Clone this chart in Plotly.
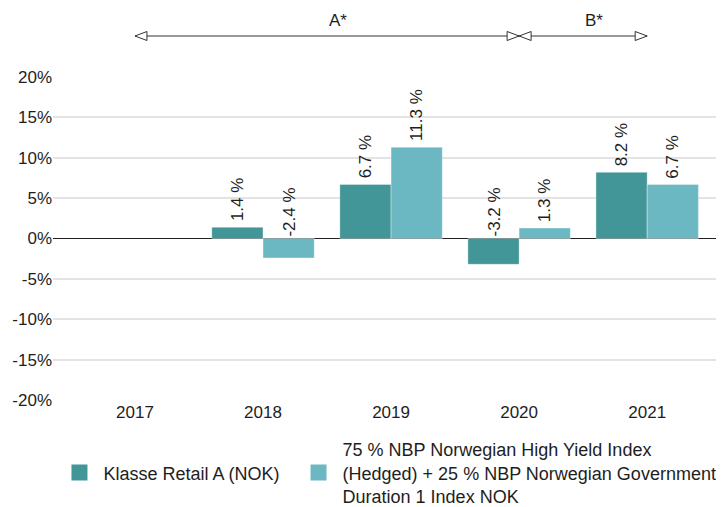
import plotly.graph_objects as go

years = ["2017", "2018", "2019", "2020", "2021"]
fund = [None, 1.4, 6.7, -3.2, 8.2]
bench = [None, -2.4, 11.3, 1.3, 6.7]
fund_name = "Klasse Retail A (NOK)"
bench_name = ("75 % NBP Norwegian High Yield Index<br>(Hedged) + 25 % NBP Norwegian Government"
              "<br>Duration 1 Index NOK")
y_ticks = [-20, -15, -10, -5, 0, 5, 10, 15, 20]
y_ticktext = ["-20%", "-15%", "-10%", "-5%", "0%", "5%", "10%", "15%", "20%"]
periods = [("A*", 0, 3), ("B*", 3, 4)]

c_fund = "rgb(67,150,152)"
c_bench = "rgb(108,184,194)"
font = "Liberation Sans, Arial, sans-serif"
txt = "#1e1e1e"

xs = list(range(len(years)))
fig = go.Figure()
fig.add_trace(go.Bar(x=xs, y=fund, marker=dict(color=c_fund, line=dict(color="rgba(255,255,255,0.35)", width=1)),
                     showlegend=False, hoverinfo="skip"))
fig.add_trace(go.Bar(x=xs, y=bench, marker=dict(color=c_bench, line=dict(color="rgba(255,255,255,0.35)", width=1)),
                     showlegend=False, hoverinfo="skip"))
pad = "\u00a0" * 2
for name, col in [(" <br>" + fund_name + pad + "<br> ", c_fund), (bench_name, c_bench)]:
    fig.add_trace(go.Scatter(x=[None], y=[None], mode="markers", name=name,
                             marker=dict(symbol="square", size=14, color=col, line=dict(color=col, width=2))))

ann = []
off = 0.2
for vals, d in [(fund, -off), (bench, off)]:
    for i, v in enumerate(vals):
        if v is None:
            continue
        ann.append(dict(x=i + d, y=max(v, 0), xref="x", yref="y", text=f"{v:.1f} %",
                        textangle=-90, showarrow=False, yanchor="bottom", xanchor="center",
                        yshift=4 if v > 0 else 0, font=dict(size=17, color=txt, family=font)))

shapes = []
for label, a, b in periods:
    shapes.append(dict(type="line", xref="x", yref="paper", ysizemode="pixel", yanchor=1,
                       x0=a, x1=b, y0=41, y1=41, line=dict(color="#333", width=1.2)))
    shapes.append(dict(type="path", xref="x", xsizemode="pixel", xanchor=a, yref="paper",
                       ysizemode="pixel", yanchor=1, path="M0,41 L12,45.5 L12,36.5 Z",
                       fillcolor="white", line=dict(color="#333", width=1)))
    shapes.append(dict(type="path", xref="x", xsizemode="pixel", xanchor=b, yref="paper",
                       ysizemode="pixel", yanchor=1, path="M0,41 L-12,45.5 L-12,36.5 Z",
                       fillcolor="white", line=dict(color="#333", width=1)))
    ann.append(dict(x=(a + b) / 2, y=1, xref="x", yref="paper", text=label, showarrow=False,
                    xanchor="left", yanchor="middle", yshift=57,
                    font=dict(size=17, color=txt, family=font)))

fig.update_layout(
    width=716, height=499,
    margin=dict(l=45, r=0, t=69, b=107, autoexpand=False),
    paper_bgcolor="white", plot_bgcolor="white",
    barmode="group", bargap=0.2, bargroupgap=0,
    font=dict(family=font, size=17, color=txt),
    xaxis=dict(tickmode="array", tickvals=xs, ticktext=years, range=[-0.64, 4.6],
               showgrid=False, zeroline=False, showline=False, ticks="", automargin=False),
    yaxis=dict(range=[-20, 20], tickmode="array", tickvals=y_ticks, ticktext=y_ticktext, showgrid=True,
               gridcolor="#e3e3e3", gridwidth=2, zeroline=True, zerolinecolor="#222",
               zerolinewidth=1.3, showline=False, ticks="", automargin=False),
    legend=dict(orientation="h", xref="container", x=0.0663, xanchor="left",
                y=-0.226, yanchor="middle",
                itemwidth=38, valign="middle",
                font=dict(size=18, color=txt, family=font)),
    annotations=ann, shapes=shapes,
)
fig.write_html("out.html")
